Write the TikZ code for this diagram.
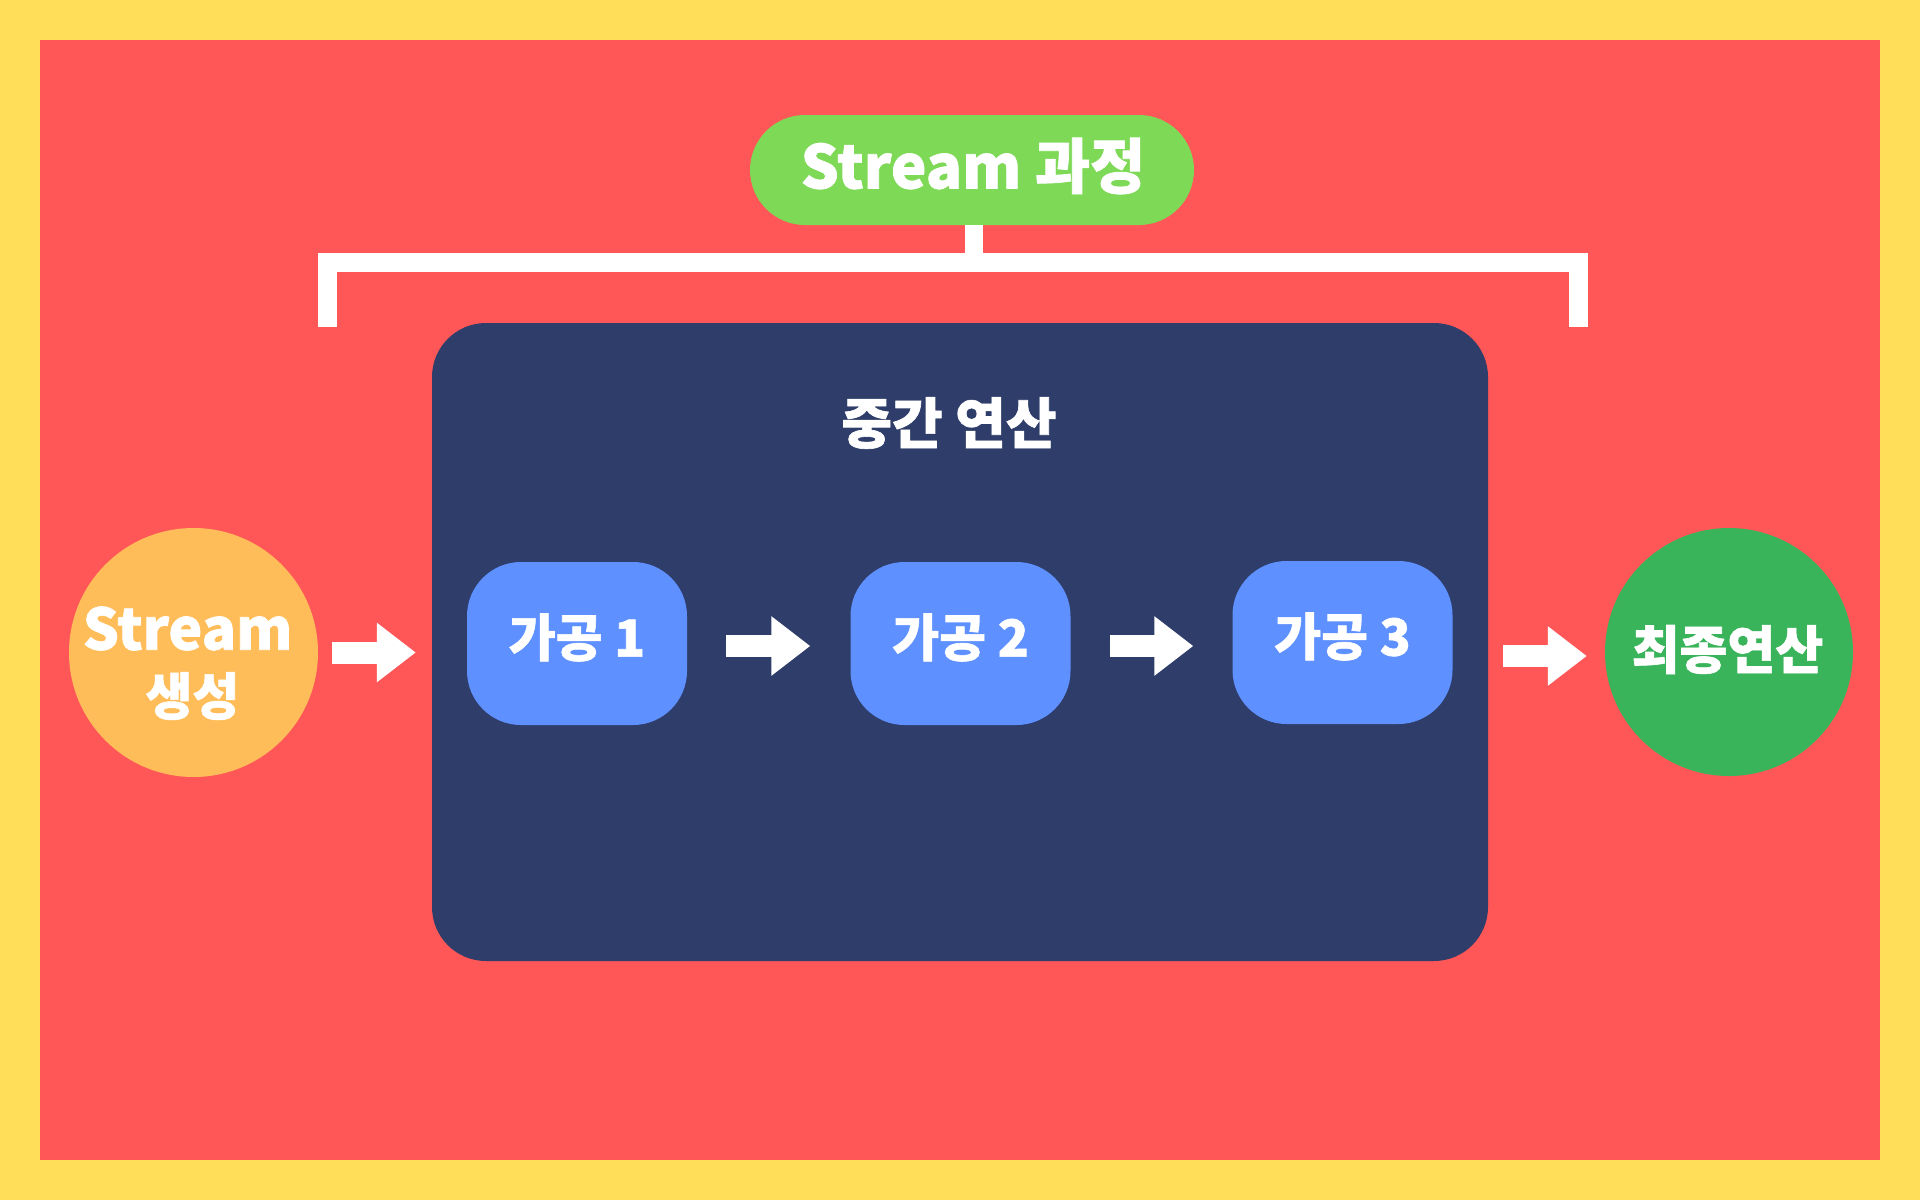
\documentclass[tikz,border=0pt]{standalone}
\usepackage{fontspec}
\newfontfamily\kr{Noto Sans CJK KR Black}[FakeBold=1.2]
\usetikzlibrary{arrows.meta,calc}
\definecolor{bgyellow}{HTML}{FFDE59}
\definecolor{bgred}{HTML}{FF5757}
\definecolor{pillgreen}{HTML}{7ED957}
\definecolor{navy}{HTML}{2E3D69}
\definecolor{stepblue}{HTML}{5E91FF}
\definecolor{startorange}{HTML}{FFBD59}
\definecolor{endgreen}{HTML}{3AB45A}
\tikzset{
  txt/.style={text=white,font=\kr,inner sep=0pt},
  stepbox/.style={fill=stepblue,rounded corners=54pt,minimum width=220pt,minimum height=163pt,inner sep=0pt},
  steptxt/.style={txt,font=\kr\fontsize{51}{54}\selectfont},
  blockarrow/.style={white,line width=22pt,-{Triangle[length=39pt,width=57pt]}},
  bracketline/.style={white,line width=19pt},
}
\begin{document}
\begin{tikzpicture}[x=1pt,y=-1pt]
\fill[bgyellow] (0,0) rectangle (1920,1200);
\fill[bgred] (40,40) rectangle (1880,1160);
% title pill
\node[fill=pillgreen,rounded corners=55pt,minimum width=444pt,minimum height=110pt,inner sep=0pt] (title) at (972,170) {};
\node[txt,font=\kr\fontsize{60}{64}\selectfont] (titletxt) at (973,166) {Stream 과정};
% bracket
\coordinate (bl) at (327.5,327);
\coordinate (br) at (1578.5,327);
\coordinate (bj) at (974,262.5);
\draw[bracketline,line width=18pt] (title.south -| bj) -- (bj);
\draw[bracketline] (bl) -- (bl |- bj) -- (br |- bj) -- (br);
% dark box
\node[fill=navy,rounded corners=54pt,minimum width=1056pt,minimum height=638pt,inner sep=0pt] (mid) at (960,642) {};
\node[txt,font=\kr\fontsize{55}{58}\selectfont] (midtxt) at (949,423) {중간 연산};
% steps
\node[stepbox] (s1) at (577,643.5) {};
\node[stepbox] (s2) at (960.5,643.5) {};
\node[stepbox] (s3) at (1342.5,642.5) {};
\node[steptxt] (s1txt) at (577,637.5) {가공 1};
\node[steptxt] (s2txt) at (960.5,637.5) {가공 2};
\node[steptxt] (s3txt) at (1342.5,636.5) {가공 3};
% circles
\node[circle,fill=startorange,minimum size=249pt,inner sep=0pt] (start) at (193.5,652.5) {};
\node[txt,font=\kr\fontsize{57}{60}\selectfont] (starttxt1) at (187.5,628.5) {Stream};
\node[txt,font=\kr\fontsize{51}{54}\selectfont] (starttxt2) at (192.5,696) {생성};
\node[circle,fill=endgreen,minimum size=248pt,inner sep=0pt] (final) at (1729,652) {};
\node[txt,font=\kr\fontsize{52}{54}\selectfont] (finaltxt) at (1727.5,649.5) {최종연산};
% arrows
\draw[blockarrow] ($(start.east)+(14,0)$) -- ($(start.east -| mid.west)+(-16,0)$);
\draw[blockarrow] ($(s1.east)+(39,2.5)$) -- ($(s2.west)+(-40,2.5)$);
\draw[blockarrow] ($(s2.east)+(39,2.5)$) -- ($(s3.west |- s2.west)+(-39,2.5)$);
\draw[blockarrow] ($(mid.east)+(15,14)$) -- ($(final.west |- mid.east)+(-18,14)$);
\end{tikzpicture}
\end{document}
